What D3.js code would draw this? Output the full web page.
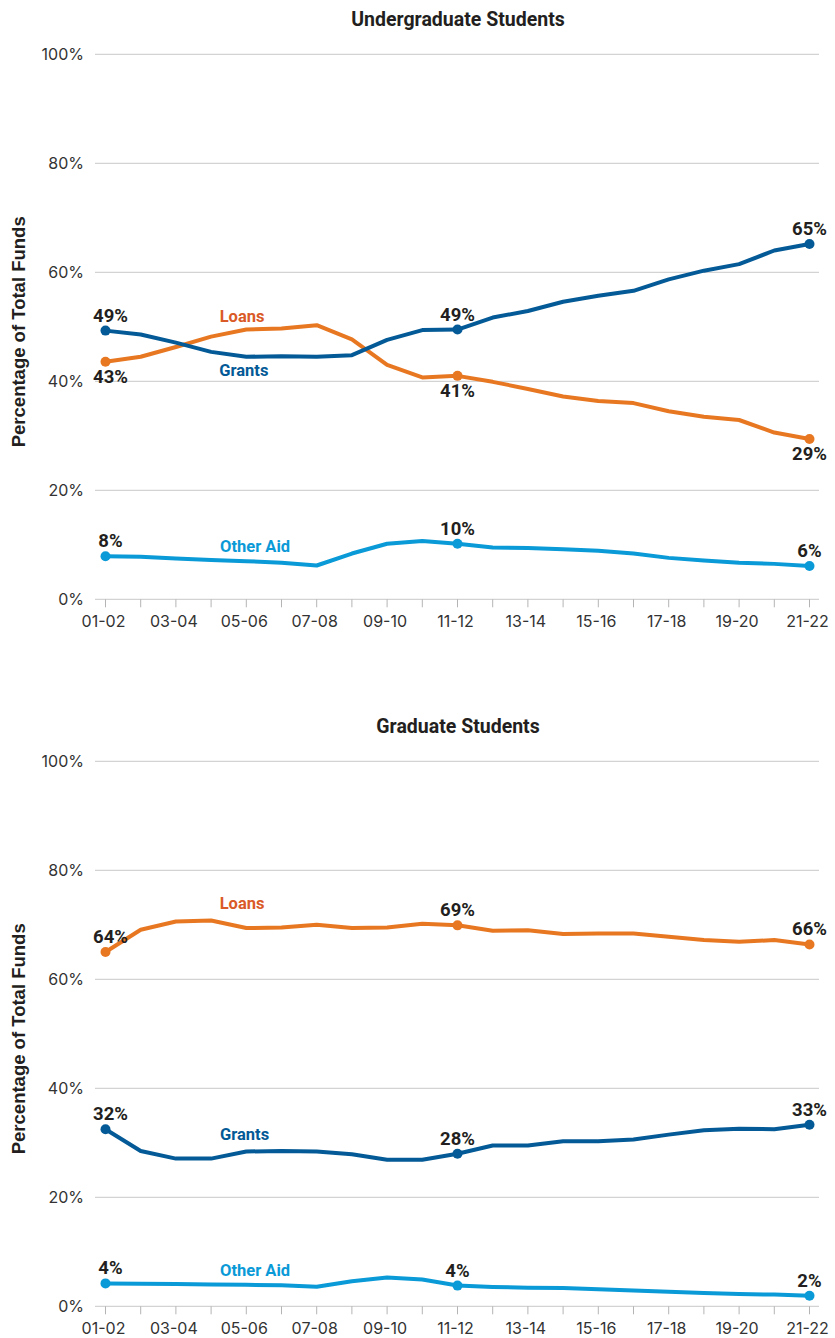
<!DOCTYPE html>
<html>
<head>
<meta charset="UTF-8">
<script src="https://d3js.org/d3.v7.min.js"></script>
<style>
    body { margin: 0; background: #fff; }
    .grid { stroke: #c8c8c8; stroke-width: 1px; }
    .tick-mark { stroke: #b4b4b4; stroke-width: 1px; }
    .ytick, .xtick { font-family: Inter, "Liberation Sans", sans-serif; font-size: 16px; fill: #333; }
    .ytitle { font-family: "Liberation Sans", Arial, sans-serif; font-size: 18.5px; font-weight: bold; fill: #231f20; }
    .title { font-family: Roboto, sans-serif; font-size: 19.5px; font-weight: bold; fill: #231f20; }
    .value { font-family: Roboto, sans-serif; font-size: 18.5px; font-weight: bold; fill: #231f20; }
    .name { font-family: Roboto, sans-serif; font-size: 16.5px; font-weight: bold; }
    .line { fill: none; stroke-width: 4px; stroke-linejoin: round; stroke-linecap: round; }
</style>
</head>
<body>
<svg id="chart" width="835" height="1338"></svg>
<script>
// academic years
const years = ["01-02","02-03","03-04","04-05","05-06","06-07","07-08","08-09","09-10","10-11",
               "11-12","12-13","13-14","14-15","15-16","16-17","17-18","18-19","19-20","20-21","21-22"];
const yTicks = [0, 20, 40, 60, 80, 100];
const labelIdx = [0, 10, 20];

// undergraduate students, % of total funds
const ugGrants = [49.3, 48.6, 47.1, 45.4, 44.5, 44.6, 44.5, 44.8, 47.6, 49.4, 49.5,
                  51.7, 52.9, 54.6, 55.7, 56.6, 58.7, 60.3, 61.5, 64.0, 65.2];
const ugLoans  = [43.6, 44.5, 46.3, 48.2, 49.5, 49.7, 50.3, 47.7, 43.0, 40.7, 41.0,
                  39.9, 38.6, 37.2, 36.4, 36.0, 34.5, 33.5, 32.9, 30.6, 29.4];
const ugOther  = [7.9, 7.8, 7.5, 7.2, 7.0, 6.7, 6.2, 8.4, 10.2, 10.7, 10.2,
                  9.5, 9.4, 9.2, 8.9, 8.4, 7.6, 7.1, 6.7, 6.5, 6.1];
const ugValueLabels = {Grants: ["49%", "49%", "65%"], Loans: ["43%", "41%", "29%"], Other: ["8%", "10%", "6%"]};

// graduate students, % of total funds
const grGrants = [32.5, 28.5, 27.1, 27.1, 28.4, 28.5, 28.4, 27.9, 26.9, 26.9, 28.0,
                  29.5, 29.5, 30.3, 30.3, 30.6, 31.5, 32.3, 32.6, 32.5, 33.3];
const grLoans  = [65.0, 69.1, 70.6, 70.8, 69.4, 69.5, 70.0, 69.4, 69.5, 70.2, 69.9,
                  68.9, 69.0, 68.3, 68.4, 68.4, 67.8, 67.2, 66.9, 67.2, 66.4];
const grOther  = [4.2, 4.15, 4.1, 4.0, 3.95, 3.85, 3.6, 4.6, 5.3, 4.9, 3.8,
                  3.55, 3.4, 3.35, 3.15, 2.9, 2.65, 2.45, 2.25, 2.15, 1.95];
const grValueLabels = {Grants: ["32%", "28%", "33%"], Loans: ["64%", "69%", "66%"], Other: ["4%", "4%", "2%"]};

const colors = {Grants: "#045a96", Loans: "#e87722", Other: "#0a9ad7"};
const nameColors = {Grants: "#045a96", Loans: "#da5a27", Other: "#0a9ad7"};
const names = {Grants: "Grants", Loans: "Loans", Other: "Other Aid"};

// series name annotations (x index, value at baseline)
const ugNames = [["Loans", 3.88, 50.9], ["Grants", 3.93, 41.0], ["Other", 4.25, 8.7]];
const grNames = [["Loans", 3.88, 72.9], ["Grants", 3.95, 30.5], ["Other", 4.25, 5.5]];

const svg = d3.select("#chart");
const x = d3.scaleLinear().domain([0, years.length - 1]).range([105.5, 809.5]);

function drawPanel(top, title, series, valueLabels, below, nameNotes) {
    const g = svg.append("g");
    const y = d3.scaleLinear().domain([0, 100]).range([top + 545, top]);

    g.append("text").attr("class", "title")
        .attr("x", 458).attr("y", top - 28)
        .attr("text-anchor", "middle").text(title);

    g.selectAll("line.grid").data(yTicks).enter().append("line")
        .attr("class", "grid")
        .attr("x1", 95).attr("x2", 819)
        .attr("y1", d => y(d)).attr("y2", d => y(d));

    g.selectAll("text.ytick").data(yTicks).enter().append("text")
        .attr("class", "ytick")
        .attr("x", 84).attr("y", d => y(d)).attr("dy", "0.35em")
        .attr("text-anchor", "end")
        .text(d => d + "%");

    g.selectAll("line.tick-mark").data(years).enter().append("line")
        .attr("class", "tick-mark")
        .attr("x1", (d, i) => x(i)).attr("x2", (d, i) => x(i))
        .attr("y1", y(0)).attr("y2", y(0) + 8);

    g.selectAll("text.xtick").data(years.filter((d, i) => i % 2 === 0)).enter().append("text")
        .attr("class", "xtick")
        .attr("x", (d, i) => x(i * 2) - 2).attr("y", y(0) + 28)
        .attr("text-anchor", "middle").text(d => d);

    g.append("text").attr("class", "ytitle")
        .attr("transform", `translate(25,${(y(0) + y(100)) / 2 + 5}) rotate(-90)`)
        .attr("text-anchor", "middle").text("Percentage of Total Funds");

    const line = d3.line().x((d, i) => x(i)).y(d => y(d));

    Object.keys(series).forEach(key => {
        const vals = series[key];
        g.append("path").datum(vals)
            .attr("class", "line")
            .attr("stroke", colors[key])
            .attr("d", line);
        g.selectAll("circle." + key).data(labelIdx).enter().append("circle")
            .attr("class", key)
            .attr("cx", i => x(i)).attr("cy", i => y(vals[i]))
            .attr("r", 5).attr("fill", colors[key]);
        g.selectAll("text.v" + key).data(labelIdx).enter().append("text")
            .attr("class", "value v" + key)
            .attr("x", (i, k) => x(i) + (k === 0 ? 5 : 0))
            .attr("y", i => y(vals[i]) + (below[key] ? 21 : -9))
            .attr("text-anchor", "middle")
            .text((i, k) => valueLabels[key][k]);
    });

    g.selectAll("text.name").data(nameNotes).enter().append("text")
        .attr("class", "name")
        .attr("x", d => x(d[1])).attr("y", d => y(d[2]))
        .attr("text-anchor", "middle")
        .attr("fill", d => nameColors[d[0]])
        .text(d => names[d[0]]);
}

drawPanel(54.3, "Undergraduate Students",
    {Loans: ugLoans, Grants: ugGrants, Other: ugOther}, ugValueLabels,
    {Loans: true}, ugNames);
drawPanel(761.3, "Graduate Students",
    {Loans: grLoans, Grants: grGrants, Other: grOther}, grValueLabels,
    {}, grNames);
</script>
</body>
</html>
